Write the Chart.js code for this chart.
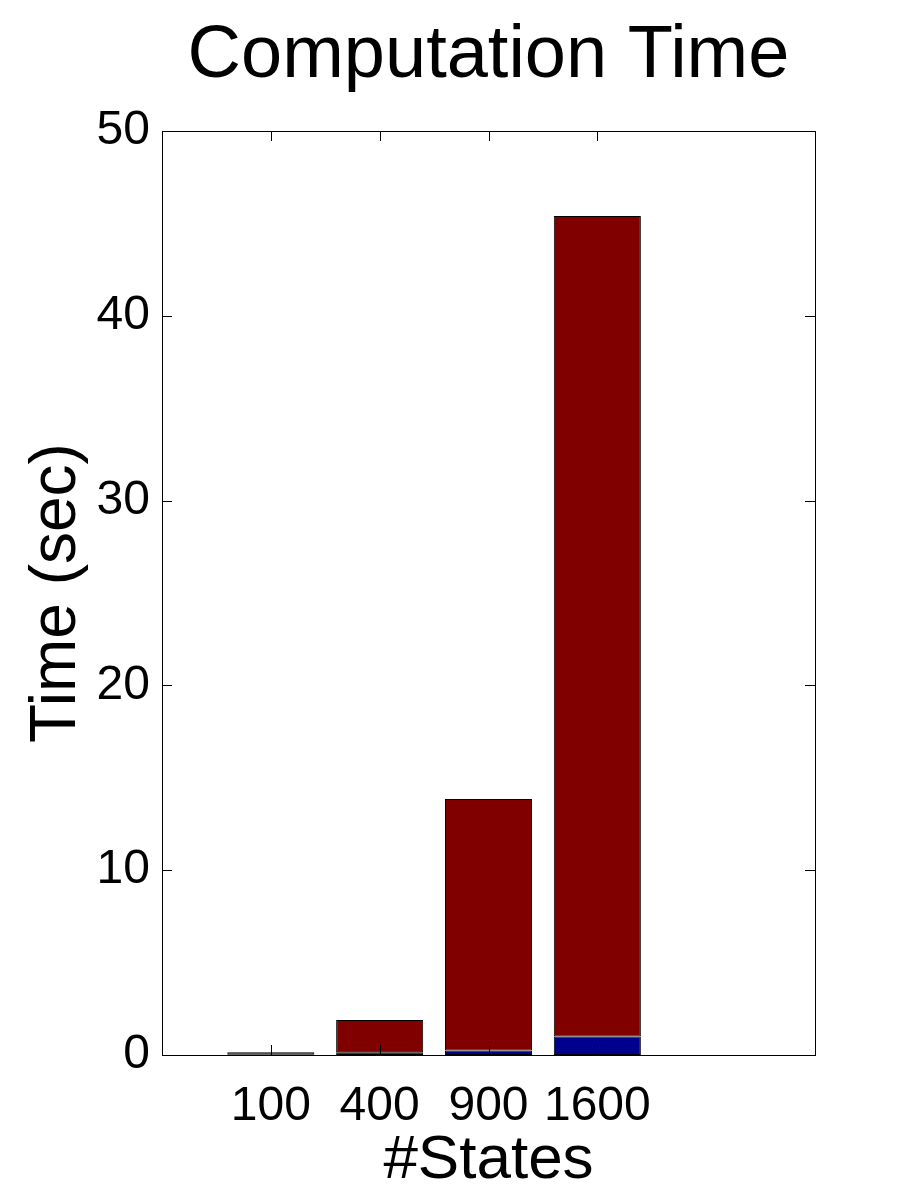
<!DOCTYPE html>
<html lang="en">
<head>
  <meta charset="UTF-8">
  <title>Computation Time</title>
  <style>
    body { margin: 0; background: #fff; }
    #wrap { width: 900px; height: 1200px; }
  </style>
  <script src="https://cdn.jsdelivr.net/npm/chart.js@4.4.1/dist/chart.umd.min.js"></script>
</head>
<body>
  <div id="wrap"><canvas id="chart" width="900" height="1200"></canvas></div>
  <script>
    // --- data ---
    const states = ['100', '400', '900', '1600'];
    const xPos = [1, 2, 3, 4];
    const blueTime = [0.02, 0.15, 0.25, 1.0];   // bottom part
    const redTime = [0.13, 1.75, 13.6, 44.4];   // stacked on top
    const yTicks = [0, 10, 20, 30, 40, 50];

    const FONT = 'Liberation Sans, Arial, Helvetica, sans-serif';

    // box around plot + inward ticks on all four sides (MATLAB style)
    const boxPlugin = {
      id: 'box',
      afterDraw(c) {
        const { ctx, chartArea: a, scales } = c;
        const len = 10;
        ctx.save();
        ctx.strokeStyle = '#000';
        ctx.lineWidth = 1;
        ctx.strokeRect(a.left + 0.5, a.top + 0.5, a.right - a.left, a.bottom - a.top);
        ctx.beginPath();
        yTicks.forEach(v => {
          const y = Math.round(scales.y.getPixelForValue(v)) + 0.5;
          ctx.moveTo(a.left, y); ctx.lineTo(a.left + len, y);
          ctx.moveTo(a.right, y); ctx.lineTo(a.right - len, y);
        });
        xPos.forEach(v => {
          const x = Math.round(scales.x.getPixelForValue(v)) + 0.5;
          ctx.moveTo(x, a.bottom); ctx.lineTo(x, a.bottom - len);
          ctx.moveTo(x, a.top); ctx.lineTo(x, a.top + len);
        });
        ctx.stroke();
        ctx.restore();
      }
    };

    const barStyle = {
      borderColor: '#000',
      borderWidth: 1,
      borderSkipped: false,
      barPercentage: 0.8,
      categoryPercentage: 1
    };

    new Chart(document.getElementById('chart'), {
      type: 'bar',
      data: {
        datasets: [
          {
            label: 'part 1',
            data: xPos.map((x, i) => ({ x, y: blueTime[i] })),
            backgroundColor: '#00008F',
            ...barStyle
          },
          {
            label: 'part 2',
            data: xPos.map((x, i) => ({ x, y: redTime[i] })),
            backgroundColor: '#800000',
            ...barStyle
          }
        ]
      },
      options: {
        responsive: false,
        animation: false,
        layout: { padding: { top: 0, left: 0, right: 85, bottom: 0 } },
        plugins: {
          legend: { display: false },
          tooltip: { enabled: false },
          title: {
            display: true,
            fullSize: false, // centre over the plot box, not the canvas
            text: 'Computation Time',
            color: '#000',
            font: { family: FONT, size: 74, weight: 'normal', lineHeight: 1 },
            padding: { top: 20, bottom: 37 }
          }
        },
        scales: {
          x: {
            type: 'linear',
            stacked: true,
            min: 0,
            max: 6,
            offset: false,
            grid: { display: false, drawTicks: false },
            border: { display: false },
            afterBuildTicks: s => { s.ticks = xPos.map(v => ({ value: v })); },
            afterFit: s => { s.height = 145; },
            ticks: {
              autoSkip: false,
              maxRotation: 0,
              padding: 23,
              color: '#000',
              font: { family: FONT, size: 48 },
              callback: v => states[xPos.indexOf(v)] ?? ''
            },
            title: {
              display: true,
              text: '#States',
              color: '#000',
              font: { family: FONT, size: 62, lineHeight: 1 },
              padding: 8
            }
          },
          y: {
            stacked: true,
            min: 0,
            max: 50,
            grid: { display: false, drawTicks: false },
            border: { display: false },
            afterBuildTicks: s => { s.ticks = yTicks.map(v => ({ value: v })); },
            afterFit: s => { s.width = 162; },
            ticks: {
              padding: 12,
              color: '#000',
              font: { family: FONT, size: 48 }
            },
            title: {
              display: true,
              text: 'Time (sec)',
              color: '#000',
              font: { family: FONT, size: 64, lineHeight: 1 },
              padding: 25
            }
          }
        }
      },
      plugins: [boxPlugin]
    });
  </script>
</body>
</html>
